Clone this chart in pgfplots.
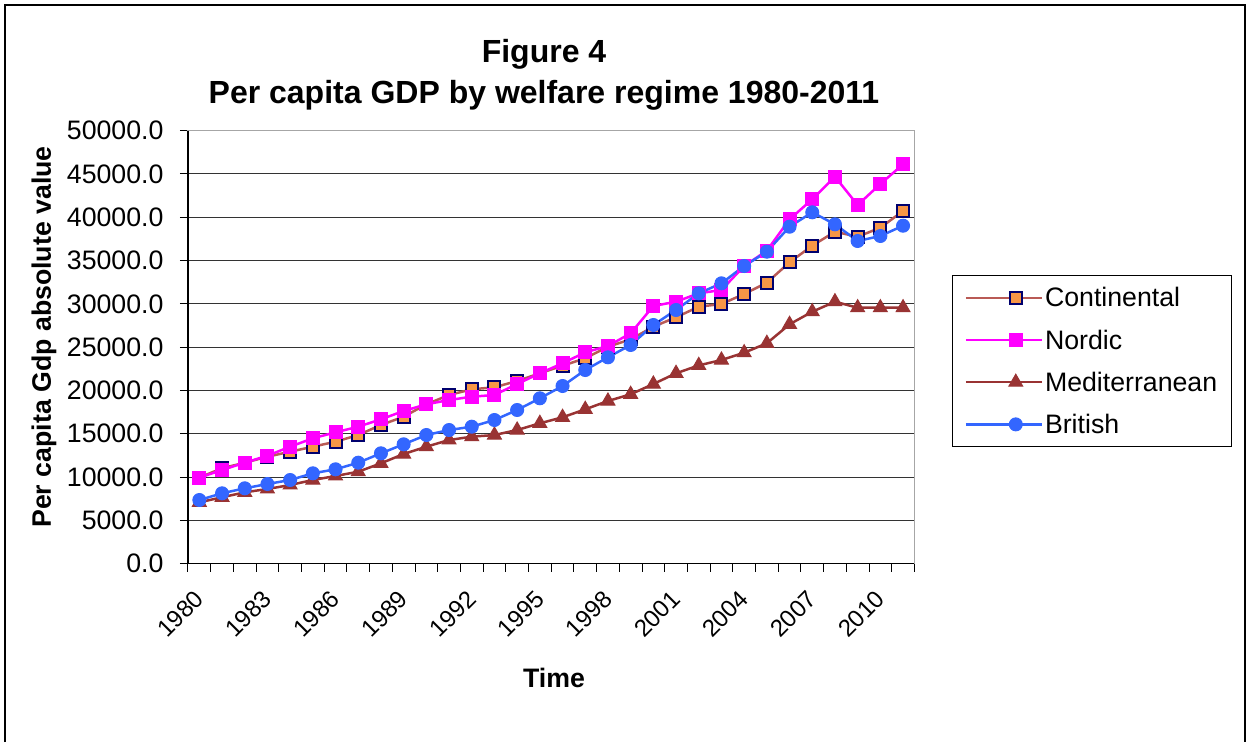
\documentclass[border=0pt]{standalone}
\usepackage{fontspec}
\setmainfont{Liberation Sans}
\usepackage{pgfplots}
\pgfplotsset{compat=1.18}
\definecolor{contline}{RGB}{185,90,85}
\definecolor{contfill}{RGB}{247,150,70}
\definecolor{navy}{RGB}{0,0,110}
\definecolor{nordic}{RGB}{255,0,255}
\definecolor{medit}{RGB}{153,51,51}
\definecolor{brit}{RGB}{51,102,255}
\begin{document}
\begin{tikzpicture}[x=1pt,y=1pt]
\path[use as bounding box] (0,0) rectangle (1248,742);
\draw[line width=2pt] (5,0) -- (5,737) -- (1245,737) -- (1245,0);
\node[font=\fontsize{32}{38}\bfseries\selectfont, anchor=base] at (544,679) {Figure 4};
\node[font=\fontsize{32}{38}\bfseries\selectfont, anchor=base] at (544,638) {Per capita GDP by welfare regime 1980-2011};
\node[font=\fontsize{26.7}{30}\bfseries\selectfont, anchor=base] at (554,55) {Time};
\node[font=\fontsize{26.7}{30}\bfseries\selectfont, rotate=90] at (44,405) {Per capita Gdp absolute value};
\begin{axis}[
  at={(188pt,178.3pt)}, anchor=south west,
  scale only axis, width=726.4pt, height=433pt,
  xmin=-0.5, xmax=31.5, ymin=0, ymax=50000,
  clip=false,
  axis line style={draw=gray!70, line width=1pt},
  ytick={0,5000,...,50000},
  scaled y ticks=false,
  ymajorgrids, major grid style={black!80, line width=1pt},
  xtick={-0.5,0.5,...,31.5}, xticklabels={},
  extra x ticks={0,3,6,9,12,15,18,21,24,27,30},
  extra x tick labels={1980,1983,1986,1989,1992,1995,1998,2001,2004,2007,2010},
  extra x tick style={major tick length=0pt, grid=none},
  xtick pos=bottom, ytick pos=left,
  tick align=outside, major tick length=8pt,
  tick style={black, line width=1pt},
  /pgf/number format/fixed, /pgf/number format/fixed zerofill,
  /pgf/number format/precision=1, /pgf/number format/1000 sep={},
  /pgf/number format/assume math mode=true,
  yticklabel style={font=\fontsize{26.7}{30}\selectfont, xshift=-13pt},
  xticklabel style={font=\fontsize{24}{28}\selectfont, inner sep=0pt, xshift=0pt, yshift=-31pt, rotate=45, anchor=east},
  legend style={at={(1.0518,0.6667)}, anchor=north west, draw=black, line width=1pt,
    font=\fontsize{26.7}{30}\selectfont, row sep=17.3pt, inner xsep=12pt, inner ysep=10pt},
  legend cell align=left,
  legend image code/.code={\path (-24pt,0pt) -- (0pt,0pt); \draw[#1, mark repeat=2, mark phase=2] plot coordinates {(0pt,0pt) (26pt,0pt) (52pt,0pt)};},
]
\addplot[draw=contline, line width=2.5pt, mark=square*, mark size=6pt, mark options={fill=contfill, draw=navy, line width=2pt}] coordinates {
(0,9950) (1,11016) (2,11663) (3,12355) (4,12933) (5,13510) (6,14087) (7,14861) (8,16016) (9,16974)
(10,18406) (11,19480) (12,20138) (13,20369) (14,21096) (15,21985) (16,22863) (17,23718) (18,25057) (19,25900)
(20,27367) (21,28452) (22,29676) (23,29988) (24,31142) (25,32447) (26,34802) (27,36719) (28,38335) (29,37758)
(30,38797) (31,40727)};
\addlegendentry{Continental}
\addplot[draw=nordic, line width=2.5pt, mark=square*, mark size=6.5pt, mark options={fill=nordic, draw=nordic, line width=1pt}] coordinates {
(0,9930) (1,10820) (2,11663) (3,12471) (4,13510) (5,14480) (6,15173) (7,15819) (8,16674) (9,17632)
(10,18406) (11,18903) (12,19283) (13,19480) (14,20750) (15,21985) (16,23140) (17,24410) (18,25138) (19,26604)
(20,29756) (21,30253) (22,31222) (23,31605) (24,34375) (25,36143) (26,39767) (27,42076) (28,44687) (29,41419)
(30,43845) (31,46117)};
\addlegendentry{Nordic}
\addplot[draw=medit, line width=2.5pt, mark=triangle*, mark size=8pt, mark options={fill=medit, draw=medit, line width=1pt}] coordinates {
(0,7090) (1,7667) (2,8245) (3,8626) (4,9088) (5,9665) (6,10127) (7,10623) (8,11593) (9,12667)
(10,13510) (11,14284) (12,14665) (13,14861) (14,15438) (15,16212) (16,16905) (17,17829) (18,18787) (19,19561)
(20,20750) (21,21985) (22,22900) (23,23521) (24,24364) (25,25449) (26,27644) (27,29098) (28,30253) (29,29560)
(30,29560) (31,29560)};
\addlegendentry{Mediterranean}
\addplot[draw=brit, line width=2.5pt, mark=*, mark size=6.5pt, mark options={fill=brit, draw=brit, line width=1pt}] coordinates {
(0,7355) (1,8129) (2,8706) (3,9203) (4,9665) (5,10438) (6,10900) (7,11663) (8,12748) (9,13787)
(10,14861) (11,15438) (12,15819) (13,16593) (14,17748) (15,19099) (16,20519) (17,22367) (18,23833) (19,25253)
(20,27563) (21,29295) (22,31222) (23,32377) (24,34375) (25,36027) (26,38913) (27,40576) (28,39190) (29,37262)
(30,37840) (31,39028)};
\addlegendentry{British}
\draw[black, line width=1.5pt] (rel axis cs:0,1) -- (rel axis cs:0,0) -- (rel axis cs:1,0);
\end{axis}
\end{tikzpicture}
\end{document}
